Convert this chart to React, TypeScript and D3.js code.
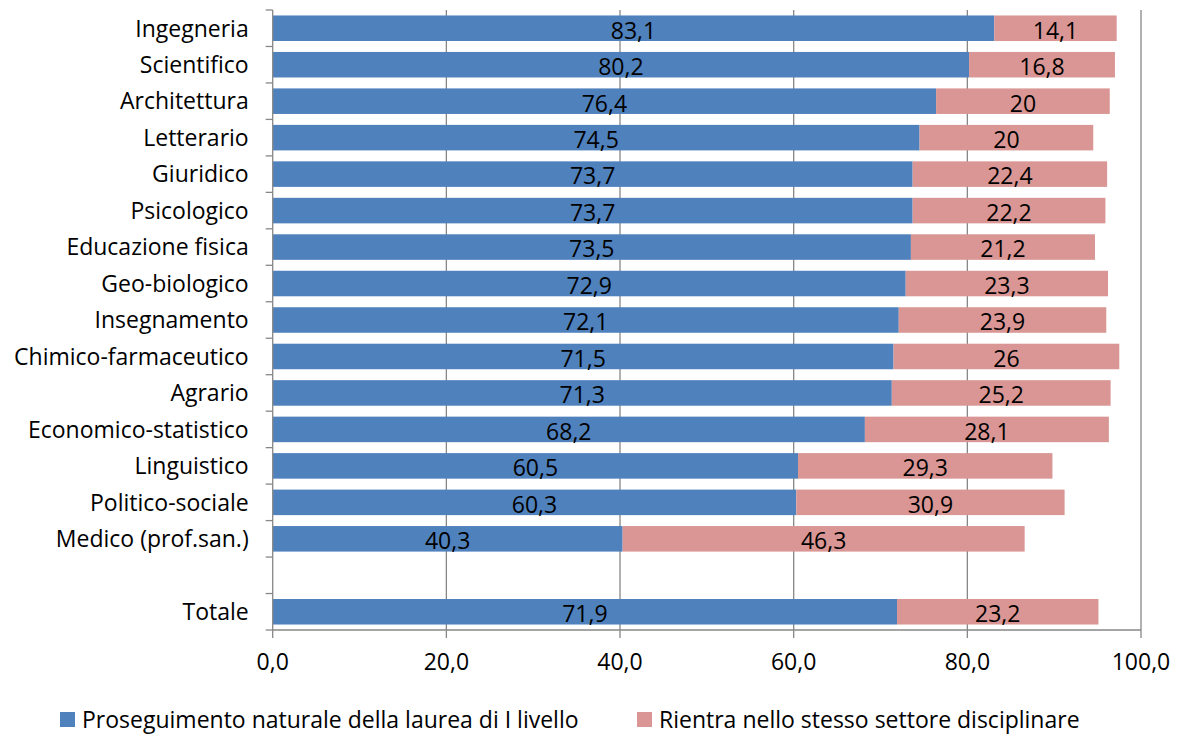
import React from "react";
import { scaleLinear, scaleBand, range } from "d3";

const categories = [
  "Ingegneria",
  "Scientifico",
  "Architettura",
  "Letterario",
  "Giuridico",
  "Psicologico",
  "Educazione fisica",
  "Geo-biologico",
  "Insegnamento",
  "Chimico-farmaceutico",
  "Agrario",
  "Economico-statistico",
  "Linguistico",
  "Politico-sociale",
  "Medico (prof.san.)",
  "",
  "Totale",
];

const proseguimento = [83.1, 80.2, 76.4, 74.5, 73.7, 73.7, 73.5, 72.9, 72.1, 71.5, 71.3, 68.2, 60.5, 60.3, 40.3, null, 71.9];
const rientra = [14.1, 16.8, 20, 20, 22.4, 22.2, 21.2, 23.3, 23.9, 26, 25.2, 28.1, 29.3, 30.9, 46.3, null, 23.2];

const seriesNames = ["Proseguimento naturale della laurea di I livello", "Rientra nello stesso settore disciplinare"];
const xTicks = [0, 20, 40, 60, 80, 100];

const colors = ["#4F81BD", "#D99694"];
const font = "'Open Sans', Lato, sans-serif";
const fs = 23;

const fmt = (v: number) => String(v).replace(".", ",");

export default function App() {
  const width = 1183;
  const height = 736;
  const margin = { top: 10, left: 272.7, right: 42, bottom: 106 };

  const x = scaleLinear().domain([0, 100]).range([margin.left, width - margin.right]);
  const y = scaleBand<number>()
    .domain(range(categories.length))
    .range([margin.top, height - margin.bottom])
    .paddingInner(0.3)
    .paddingOuter(0.15);
  const step = y.step();
  const bottom = height - margin.bottom;

  return (
    <svg width={width} height={height} style={{ position: "absolute", left: 0, top: 0, fontFamily: font }}>
      {/* gridlines */}
      {xTicks.slice(1).map((t) => (
        <line key={t} x1={x(t)} x2={x(t)} y1={margin.top} y2={bottom + 8} stroke="#878787" strokeWidth={1.3} />
      ))}
      {/* bars */}
      {categories.map((c, i) => {
        const a = proseguimento[i];
        const b = rientra[i];
        if (a == null || b == null) return null;
        const yy = y(i)!;
        const bh = y.bandwidth();
        return (
          <g key={i}>
            <rect x={x(0)} y={yy} width={x(a) - x(0)} height={bh} fill={colors[0]} />
            <rect x={x(a)} y={yy} width={x(a + b) - x(a)} height={bh} fill={colors[1]} />
            <text x={(x(0) + x(a)) / 2} y={yy + bh / 2} dy="0.45em" textAnchor="middle" fontSize={fs} fill="#000">
              {fmt(a)}
            </text>
            <text x={(x(a) + x(a + b)) / 2} y={yy + bh / 2} dy="0.45em" textAnchor="middle" fontSize={fs} fill="#000">
              {fmt(b)}
            </text>
          </g>
        );
      })}
      {/* y axis */}
      <line x1={x(0)} x2={x(0)} y1={margin.top} y2={bottom + 8} stroke="#878787" strokeWidth={1.3} />
      {range(categories.length + 1).map((k) => (
        <line key={k} x1={x(0) - 7} x2={x(0)} y1={margin.top + k * step} y2={margin.top + k * step} stroke="#878787" strokeWidth={1.3} />
      ))}
      {categories.map((c, i) => (
        <text key={i} x={x(0) - 24} y={y(i)! + y.bandwidth() / 2} dy="0.36em" textAnchor="end" fontSize={fs} fill="#000">
          {c}
        </text>
      ))}
      {/* x axis */}
      <line x1={x(0)} x2={x(100)} y1={bottom} y2={bottom} stroke="#878787" strokeWidth={1.3} />
      {xTicks.map((t) => (
        <text key={t} x={x(t)} y={bottom + 32} dy="0.36em" textAnchor="middle" fontSize={fs} fill="#000">
          {t.toFixed(1).replace(".", ",")}
        </text>
      ))}
      {/* legend */}
      {seriesNames.map((s, i) => {
        const lx = i === 0 ? 60 : 637;
        return (
          <g key={s}>
            <rect x={lx} y={712} width={15} height={15} fill={colors[i]} />
            <text x={lx + 22} y={720} dy="0.36em" fontSize={fs} fill="#000">
              {s}
            </text>
          </g>
        );
      })}
    </svg>
  );
}
